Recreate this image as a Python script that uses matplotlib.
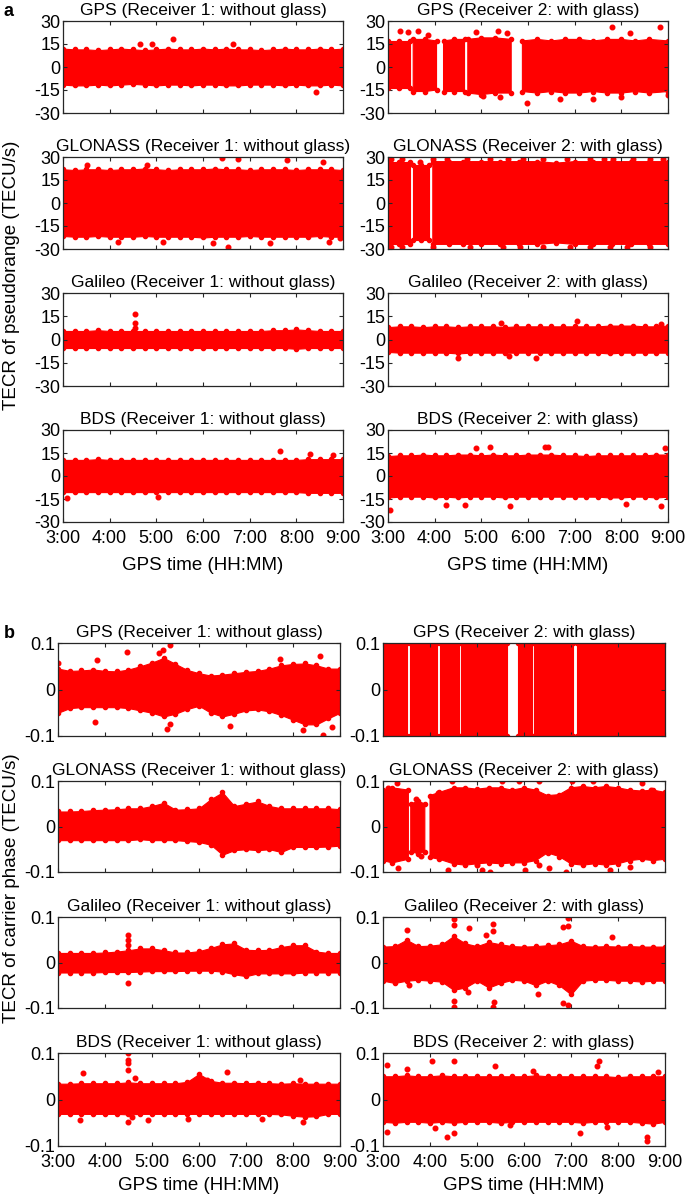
import numpy as np
import matplotlib
matplotlib.use("Agg")
import matplotlib.pyplot as plt

plt.rcParams['font.family'] = ['Liberation Sans', 'DejaVu Sans']

nan = np.nan

# time grid (hours of GPS time) used for the dense part of each cloud
hours = [3.0, 3.25, 3.5, 3.75, 4.0, 4.25, 4.5, 4.75, 5.0, 5.25, 5.5, 5.75, 6.0,
         6.25, 6.5, 6.75, 7.0, 7.25, 7.5, 7.75, 8.0, 8.25, 8.5, 8.75, 9.0]
hour_ticks = [3, 4, 5, 6, 7, 8, 9]
hour_labels = ['3:00', '4:00', '5:00', '6:00', '7:00', '8:00', '9:00']

titles = ['GPS (Receiver 1: without glass)', 'GPS (Receiver 2: with glass)',
          'GLONASS (Receiver 1: without glass)', 'GLONASS (Receiver 2: with glass)',
          'Galileo (Receiver 1: without glass)', 'Galileo (Receiver 2: with glass)',
          'BDS (Receiver 1: without glass)', 'BDS (Receiver 2: with glass)']

# ---------- (a) TECR of pseudorange, upper / lower edge of the dense band + stray points
pr_gps1_hi = [12, 11.5, 11.5, 11, 11.5, 12, 11.5, 11, 11.5, 12, 11.5, 11.5, 12, 11.5, 12, 11.5, 11.5, 11, 11.5, 12, 11.5, 11.5, 12, 11.5, 12]
pr_gps1_lo = [-11.5, -12, -12, -11.5, -12, -11.5, -11, -11.5, -12, -11.5, -11.5, -12, -11.5, -11.5, -12, -12, -11.5, -11.5, -11.5, -12, -11.5, -12, -12, -11.5, -12]
pr_gps1_ox = [4.65, 4.9, 5.35, 6.65, 8.43]
pr_gps1_oy = [15, 15.3, 18, 15, -16.6]

pr_gps2_t = [3.0, 3.24, 3.47, 3.505, 3.54, 3.8, 4.04, 4.115, 4.19, 4.42, 4.64, 4.675, 4.71, 5.0, 5.3, 5.64,
             5.76, 5.88, 6.2, 6.5, 6.8, 7.1, 7.4, 7.7, 8.0, 8.3, 8.6, 9.0]
pr_gps2_hi = [17, 17, 17, nan, 18, 18, 17, nan, 17, 18, 18, nan, 18, 19, 19, 18,
              nan, 17, 18, 17, 18, 18, 17, 18, 18, 17, 18, 17]
pr_gps2_lo = [-14, -14, -14, nan, -16, -16, -15, nan, -16, -16, -16, nan, -17, -18, -17, -17,
              nan, -16, -17, -16, -17, -17, -16, -17, -17, -16, -17, -16]
pr_gps2_ox = [3.25, 3.43, 3.64, 3.86, 4.89, 5.36, 5.54, 5.97, 6.68, 7.39, 7.79, 8.0, 8.18, 8.82, 9.0, 5.04, 5.39]
pr_gps2_oy = [23.6, 23, 23.8, 21, 23, 23.8, 22, -23.4, -21, -21, 25.8, -19.5, 22, 25.8, -18, -19, -19.5]

pr_glo1_hi = [22, 21.5, 22, 22, 21.5, 22, 22, 22.5, 22, 21.5, 22, 22, 22, 22.5, 22, 22, 21.5, 22, 22, 22, 21.5, 22, 22, 22, 21.5]
pr_glo1_lo = [-21.5, -22, -22, -21.5, -22, -22, -22, -21.5, -22, -22, -22, -22, -22.5, -22, -22, -22, -21.5, -22, -22, -22, -22, -22, -21.5, -22, -22]
pr_glo1_ox = [6.4, 6.76, 7.79, 8.58, 3.51, 4.79, 6.54, 5.15, 6.22, 7.44, 8.69, 4.18, 8.94]
pr_glo1_oy = [29.4, 28.7, 27.8, 26.7, 25, 25, -28.5, -25.2, -26.3, -26.3, -25.2, -25.2, -23]

pr_glo2_t = [3.0, 3.24, 3.47, 3.505, 3.54, 3.7, 3.87, 3.915, 3.96, 4.3, 4.6, 5.0, 5.4, 5.8, 6.2, 6.6,
             7.0, 7.4, 7.8, 8.2, 8.6, 9.0]
pr_glo2_hi = [27, 27, 27, nan, 25, 25, 25, nan, 27, 27, 27, 27, 27, 27, 27, 26, 27, 27, 27, 27, 27, 27]
pr_glo2_lo = [-27, -27, -27, nan, -24, -24, -24, nan, -27, -27, -27, -27, -27, -27, -27, -26, -27, -27, -27, -27, -27, -27]
pr_glo2_ox = [3.07, 3.29, 3.68, 3.97, 4.26, 4.69, 5.19, 5.58, 5.9, 6.33, 6.83, 7.33, 7.62, 7.83, 8.26, 8.62, 8.9,
              3.07, 3.29, 3.97, 4.76, 5.47, 5.83, 6.33, 6.9, 7.33, 7.76, 8.12, 8.62]
pr_glo2_oy = [29, 29, 27, 29, 29, 28.5, 29, 29, 28.5, 29, 29, 29, 28.5, 29, 29, 29, 28.5,
              -29, -29, -29, -28.5, -29, -29, -29, -28.5, -29, -29, -29, -29]

pr_gal1_hi = [5.5, 5.5, 5.5, 6, 5.5, 5.5, 5.5, 5.5, 5.5, 5.5, 5.5, 5.5, 5.5, 5.5, 5.5, 5.5, 5.5, 5.5, 6, 6, 6.5, 6, 5.5, 5.5, 5.5]
pr_gal1_lo = [-5.5, -5.5, -5.5, -5.5, -5.5, -5.5, -5.5, -5.5, -5.5, -5.5, -5.5, -5.5, -5.5, -5.5, -5.5, -5.5, -5.5, -5.5, -5.5, -5.5, -6, -5.5, -5.5, -5.5, -5.5]
pr_gal1_ox = [4.54, 4.54, 4.54]
pr_gal1_oy = [16.4, 10.9, 7.6]

pr_gal2_hi = [8, 8.5, 8.5, 8, 8.5, 8.5, 8, 8.5, 8.5, 8.5, 8, 8.5, 8.5, 8.5, 8.5, 8.5, 8.5, 8.5, 8.5, 9, 9, 9, 8.5, 8.5, 9]
pr_gal2_lo = [-8, -8.5, -8.5, -8.5, -8.5, -8.5, -9, -8.5, -8.5, -8.5, -8.5, -8.5, -8.5, -8.5, -8.5, -8.5, -8.5, -8.5, -8.5, -9, -8.5, -8.5, -8.5, -8.5, -8.5]
pr_gal2_ox = [5.43, 7.04, 4.5, 5.6, 6.18, 8.86]
pr_gal2_oy = [10.4, 11.7, -12.1, -10.6, -12.1, 10.0]

pr_bds1_hi = [10.5, 10.5, 10.5, 11, 10.5, 10.5, 10.5, 10.5, 10.5, 10.5, 10.5, 10.5, 10.5, 10.5, 10.5, 10.5, 10.5, 10.5, 10.5, 10.5, 10.5, 11, 11, 11, 11]
pr_bds1_lo = [-10.5, -10.5, -10.5, -10.5, -10.5, -10.5, -10.5, -10.5, -10.5, -10.5, -10.5, -10.5, -10.5, -10.5, -10.5, -10.5, -10.5, -10.5, -10.5, -10.5, -10.5, -11, -11, -11, -11]
pr_bds1_ox = [7.65, 8.29, 3.08, 5.04, 8.79]
pr_bds1_oy = [16.5, 14.3, -14.1, -13.6, 13.6]

pr_bds2_hi = [13, 13.5, 13.5, 14, 13.5, 13.5, 14, 14, 13.5, 14, 13.5, 13.5, 14, 14, 14, 13.5, 13.5, 13, 13.5, 13.5, 13.5, 13.5, 13.5, 14, 14]
pr_bds2_lo = [-14, -13.5, -13.5, -13.5, -14, -13.5, -14, -13.5, -13.5, -13.5, -14, -13.5, -13.5, -13.5, -13.5, -13.5, -13.5, -13.5, -13.5, -14, -14, -13.5, -13.5, -14, -13.5]
pr_bds2_ox = [3.04, 4.89, 5.18, 6.36, 6.43, 8.93, 4.25, 4.64, 5.61, 8.86, 8.11]
pr_bds2_oy = [-22.4, 18, 18.7, 19.1, 19.1, 18, -19.1, -19.1, -19.8, -19.8, -18]

# ---------- (b) TECR of carrier phase
cp_gps1_hi = [0.045, 0.04, 0.041, 0.043, 0.04, 0.039, 0.043, 0.05, 0.058, 0.068, 0.055, 0.042, 0.035, 0.03, 0.032, 0.035, 0.038, 0.04, 0.045, 0.052, 0.055, 0.056, 0.052, 0.045, 0.045]
cp_gps1_lo = [-0.05, -0.04, -0.038, -0.038, -0.038, -0.038, -0.04, -0.045, -0.05, -0.058, -0.052, -0.042, -0.035, -0.05, -0.058, -0.052, -0.045, -0.043, -0.047, -0.055, -0.065, -0.075, -0.075, -0.062, -0.05]
cp_gps1_ox = [4.46, 5.14, 5.38, 5.24, 3.82, 3.01, 3.79, 5.31, 5.38, 6.66, 7.72, 8.57, 8.22, 8.64, 8.82]
cp_gps1_oy = [0.081, 0.078, 0.095, 0.084, 0.063, 0.056, -0.07, -0.084, -0.075, -0.079, 0.066, 0.073, -0.088, -0.098, -0.081]

cp_gps2_t = [3.0, 3.5, 3.535, 3.57, 4.14, 4.175, 4.21, 4.62, 4.645, 4.67, 5.63, 5.75, 5.88, 6.16, 6.185,
             6.21, 7.05, 7.09, 7.13, 9.0]
cp_gps2_hi = [0.1, 0.1, nan, 0.1, 0.1, nan, 0.1, 0.1, nan, 0.1, 0.1, nan, 0.1, 0.1, nan, 0.1, 0.1, nan, 0.1, 0.1]
cp_gps2_lo = [-0.1, -0.1, nan, -0.1, -0.1, nan, -0.1, -0.1, nan, -0.1, -0.1, nan, -0.1, -0.1, nan, -0.1, -0.1, nan, -0.1, -0.1]
cp_gps2_ox = []
cp_gps2_oy = []

cp_glo1_hi = [0.033, 0.033, 0.034, 0.036, 0.037, 0.038, 0.04, 0.04, 0.045, 0.052, 0.037, 0.038, 0.04, 0.06, 0.075, 0.045, 0.05, 0.055, 0.045, 0.04, 0.04, 0.04, 0.04, 0.04, 0.038]
cp_glo1_lo = [-0.03, -0.03, -0.03, -0.03, -0.03, -0.03, -0.03, -0.028, -0.03, -0.03, -0.03, -0.032, -0.034, -0.04, -0.062, -0.052, -0.05, -0.052, -0.05, -0.056, -0.045, -0.045, -0.045, -0.044, -0.042]
cp_glo1_ox = []
cp_glo1_oy = []

cp_glo2_t = [3.0, 3.2, 3.54, 3.565, 3.59, 3.75, 3.89, 3.945, 4.0, 4.2, 4.5, 4.75, 5.0, 5.25, 5.5, 5.75, 6.0,
             6.25, 6.5, 6.75, 7.0, 7.25, 7.5, 7.75, 8.0, 8.25, 8.5, 8.75, 9.0]
cp_glo2_hi = [0.08, 0.085, 0.08, nan, 0.05, 0.055, 0.05, nan, 0.068, 0.075, 0.085, 0.085, 0.082, 0.085, 0.085, 0.08, 0.085,
              0.08, 0.068, 0.07, 0.085, 0.088, 0.085, 0.088, 0.085, 0.08, 0.078, 0.08, 0.075]
cp_glo2_lo = [-0.075, -0.08, -0.072, nan, -0.055, -0.06, -0.055, nan, -0.068, -0.072, -0.082, -0.085, -0.082, -0.08, -0.082, -0.08, -0.08,
              -0.075, -0.058, -0.066, -0.082, -0.085, -0.082, -0.085, -0.082, -0.075, -0.072, -0.075, -0.072]
cp_glo2_ox = [3.29, 3.11, 3.32, 4.46, 5.1, 5.28, 5.53, 5.89, 6.32, 7.03, 7.46, 7.82, 8.5, 8.71, 8.96,
              4.99, 6.03, 6.53, 6.89, 8.25, 4.39, 4.18, 6.32, 3.7, 3.8]
cp_glo2_oy = [0.095, 0.084, -0.091, 0.099, -0.095, -0.099, 0.099, 0.099, 0.099, 0.099, 0.1, -0.095, 0.095, 0.08, 0.062,
              -0.084, -0.095, -0.091, -0.099, -0.088, -0.095, 0.073, -0.084, 0.06, -0.065]

cp_gal1_hi = [0.021, 0.021, 0.021, 0.021, 0.022, 0.024, 0.027, 0.031, 0.031, 0.027, 0.022, 0.022, 0.025, 0.032, 0.04, 0.042, 0.028, 0.027, 0.028, 0.034, 0.038, 0.038, 0.024, 0.021, 0.021]
cp_gal1_lo = [-0.022, -0.022, -0.022, -0.022, -0.021, -0.021, -0.021, -0.02, -0.019, -0.019, -0.019, -0.018, -0.018, -0.018, -0.02, -0.026, -0.03, -0.024, -0.024, -0.024, -0.024, -0.022, -0.022, -0.022, -0.022]
cp_gal1_ox = [4.5, 4.5, 4.5, 4.5]
cp_gal1_oy = [0.061, 0.05, 0.039, -0.045]

cp_gal2_hi = [0.035, 0.036, 0.05, 0.036, 0.037, 0.04, 0.058, 0.042, 0.036, 0.045, 0.04, 0.036, 0.035, 0.036, 0.038, 0.04, 0.048, 0.036, 0.035, 0.036, 0.035, 0.036, 0.035, 0.035, 0.035]
cp_gal2_lo = [-0.04, -0.045, -0.04, -0.038, -0.04, -0.042, -0.06, -0.055, -0.04, -0.055, -0.045, -0.038, -0.04, -0.05, -0.04, -0.05, -0.07, -0.04, -0.038, -0.038, -0.04, -0.04, -0.042, -0.04, -0.04]
cp_gal2_ox = [4.5, 4.5, 4.5, 4.5, 4.83, 5.19, 5.35, 5.35, 5.35, 5.37, 4.81, 6.3, 6.84, 6.94, 6.94, 6.84, 6.94, 3.5, 7.87, 3.55]
cp_gal2_oy = [0.096, 0.083, -0.097, -0.085, 0.076, 0.061, 0.084, 0.07, -0.097, -0.087, -0.064, -0.07, 0.077, 0.098, 0.081, -0.09, -0.093, 0.072, 0.055, -0.05]

cp_bds1_hi = [0.034, 0.034, 0.035, 0.035, 0.035, 0.035, 0.037, 0.035, 0.035, 0.035, 0.035, 0.038, 0.055, 0.04, 0.036, 0.036, 0.035, 0.036, 0.035, 0.034, 0.035, 0.034, 0.034, 0.034, 0.034]
cp_bds1_lo = [-0.031, -0.031, -0.031, -0.031, -0.031, -0.031, -0.032, -0.031, -0.031, -0.031, -0.031, -0.031, -0.031, -0.031, -0.031, -0.031, -0.031, -0.031, -0.031, -0.032, -0.035, -0.037, -0.036, -0.031, -0.031]
cp_bds1_ox = [4.5, 4.5, 4.5, 4.5, 3.54, 6.59, 4.64, 4.5, 4.57, 4.92, 3.47, 8.22, 7.33, 5.77, 6.16, 8.15]
cp_bds1_oy = [0.099, 0.086, 0.078, 0.064, 0.057, 0.06, 0.046, -0.048, -0.037, -0.044, -0.044, -0.048, -0.041, -0.041, 0.042, 0.042]

cp_bds2_hi = [0.05, 0.05, 0.052, 0.05, 0.05, 0.052, 0.05, 0.05, 0.05, 0.05, 0.05, 0.05, 0.05, 0.052, 0.05, 0.05, 0.05, 0.05, 0.05, 0.05, 0.048, 0.05, 0.05, 0.05, 0.05]
cp_bds2_lo = [-0.048, -0.05, -0.048, -0.048, -0.05, -0.048, -0.05, -0.048, -0.048, -0.048, -0.05, -0.048, -0.048, -0.048, -0.048, -0.048, -0.048, -0.05, -0.048, -0.048, -0.048, -0.048, -0.05, -0.052, -0.048]
cp_bds2_ox = [3.08, 4.04, 4.5, 4.5, 4.36, 5.39, 7.59, 7.55, 8.61, 8.61, 3.08, 7.19, 7.76, 8.86, 5.7, 4.1, 6.2, 3.5]
cp_bds2_oy = [0.075, 0.082, 0.082, -0.073, -0.08, 0.071, 0.082, 0.071, -0.08, -0.09, -0.07, -0.073, -0.059, 0.06, -0.055, -0.062, 0.062, 0.065]

pr_panels = [
    (hours, pr_gps1_hi, pr_gps1_lo, pr_gps1_ox, pr_gps1_oy),
    (pr_gps2_t, pr_gps2_hi, pr_gps2_lo, pr_gps2_ox, pr_gps2_oy),
    (hours, pr_glo1_hi, pr_glo1_lo, pr_glo1_ox, pr_glo1_oy),
    (pr_glo2_t, pr_glo2_hi, pr_glo2_lo, pr_glo2_ox, pr_glo2_oy),
    (hours, pr_gal1_hi, pr_gal1_lo, pr_gal1_ox, pr_gal1_oy),
    (hours, pr_gal2_hi, pr_gal2_lo, pr_gal2_ox, pr_gal2_oy),
    (hours, pr_bds1_hi, pr_bds1_lo, pr_bds1_ox, pr_bds1_oy),
    (hours, pr_bds2_hi, pr_bds2_lo, pr_bds2_ox, pr_bds2_oy),
]
cp_panels = [
    (hours, cp_gps1_hi, cp_gps1_lo, cp_gps1_ox, cp_gps1_oy),
    (cp_gps2_t, cp_gps2_hi, cp_gps2_lo, cp_gps2_ox, cp_gps2_oy),
    (hours, cp_glo1_hi, cp_glo1_lo, cp_glo1_ox, cp_glo1_oy),
    (cp_glo2_t, cp_glo2_hi, cp_glo2_lo, cp_glo2_ox, cp_glo2_oy),
    (hours, cp_gal1_hi, cp_gal1_lo, cp_gal1_ox, cp_gal1_oy),
    (hours, cp_gal2_hi, cp_gal2_lo, cp_gal2_ox, cp_gal2_oy),
    (hours, cp_bds1_hi, cp_bds1_lo, cp_bds1_ox, cp_bds1_oy),
    (hours, cp_bds2_hi, cp_bds2_lo, cp_bds2_ox, cp_bds2_oy),
]

RED = '#ff0000'
W, H = 685, 1199
FS = 13

fig = plt.figure(figsize=(W / 100, H / 100), dpi=100)


def px_axes(x0, x1, y0, y1):
    return fig.add_axes([x0 / W, 1 - y1 / H, (x1 - x0) / W, (y1 - y0) / H])


def draw_panel(ax, data, title, ylim, yticks, ylabels, bottom):
    t, hi, lo, ox, oy = data
    t = np.array(t, float)
    hi = np.array(hi, float)
    lo = np.array(lo, float)
    ax.fill_between(t, lo, hi, color=RED, edgecolor=RED, lw=0.8)
    ax.plot(t, hi, 'o', ms=3, color=RED)
    ax.plot(t, lo, 'o', ms=3, color=RED)
    if len(ox):
        ax.plot(ox, oy, 'o', ms=3.3, color=RED)
    ax.set_xlim(3, 9)
    ax.set_ylim(*ylim)
    ax.set_xticks(hour_ticks)
    ax.set_xticklabels(hour_labels if bottom else [])
    ax.set_yticks(yticks)
    ax.set_yticklabels(ylabels)
    ax.tick_params(direction='in', length=3, width=0.8, top=True, right=True,
                   labelsize=FS, colors='#262626', labelcolor='black')
    ax.tick_params(axis='y', pad=2)
    ax.tick_params(axis='x', pad=5.5)
    for s in ax.spines.values():
        s.set_color('#262626')
        s.set_linewidth(0.9)
    ax.set_title(title, fontsize=12.5, pad=4)


# (a) pseudorange
a_cols = [(63, 343), (388, 668)]
a_rows = [(21, 113), (157, 249), (293, 386), (430, 522)]
for i, data in enumerate(pr_panels):
    r, c = divmod(i, 2)
    ax = px_axes(a_cols[c][0], a_cols[c][1], a_rows[r][0], a_rows[r][1])
    draw_panel(ax, data, titles[i], (-30, 30), [-30, -15, 0, 15, 30],
               ['-30', '-15', '0', '15', '30'], r == 3)

# (b) carrier phase
b_cols = [(58, 340), (383, 665)]
b_rows = [(643, 736), (781, 872), (917, 1008), (1053, 1146)]
for i, data in enumerate(cp_panels):
    r, c = divmod(i, 2)
    ax = px_axes(b_cols[c][0], b_cols[c][1], b_rows[r][0], b_rows[r][1])
    draw_panel(ax, data, titles[i], (-0.1, 0.1), [-0.1, 0, 0.1],
               ['-0.1', '0', '0.1'], r == 3)

fig.text(12 / W, 1 - 275 / H, 'TECR of pseudorange (TECU/s)', rotation=90,
         ha='center', va='center', fontsize=13.5)
fig.text(12 / W, 1 - 888 / H, 'TECR of carrier phase (TECU/s)', rotation=90,
         ha='center', va='center', fontsize=13.5)
for cx in (203, 528):
    fig.text(cx / W, 1 - 566 / H, 'GPS time (HH:MM)', ha='center', va='center', fontsize=13.5)
for cx in (199, 524):
    fig.text(cx / W, 1 - 1186 / H, 'GPS time (HH:MM)', ha='center', va='center', fontsize=13.5)

fig.text(9 / W, 1 - 12 / H, 'a', ha='center', va='center', fontsize=13, fontweight='bold')
fig.text(9 / W, 1 - 634 / H, 'b', ha='center', va='center', fontsize=13, fontweight='bold')

fig.savefig('out.png', dpi=100)
